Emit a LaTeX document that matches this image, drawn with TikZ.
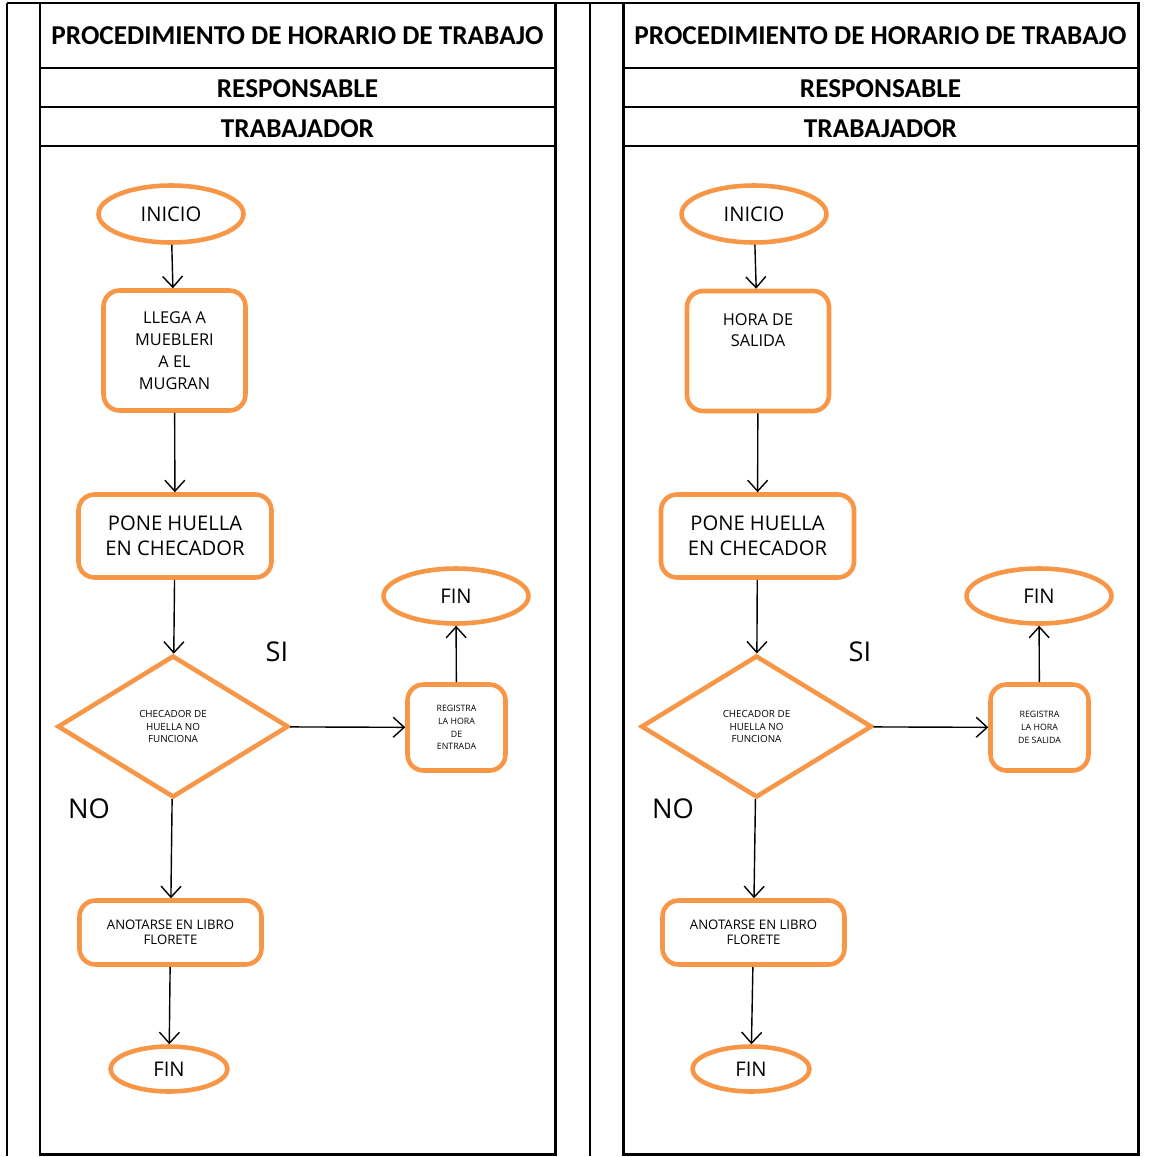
\documentclass[tikz,border=0pt]{standalone}
\usepackage{fontspec}
\setmainfont{Open Sans}
\newfontfamily\headfont{Carlito}
\definecolor{FlowOrange}{RGB}{247,150,70}
\usetikzlibrary{
    shapes.geometric,
    arrows.meta,
    positioning,
}

\begin{document}
\begin{tikzpicture}[
    x=0.02cm, y=-0.02cm,
    head/.style={font=\headfont\bfseries\fontsize{15.5}{17}\selectfont, inner sep=0pt},
    frame/.style={line width=1.7pt, black},
    rule/.style={line width=1.1pt, black},
    term/.style={ellipse, draw=FlowOrange, line width=2.6pt, inner sep=0pt, font=\fontsize{11.5}{13}\selectfont},
    proc/.style={rectangle, rounded corners=0.32cm, draw=FlowOrange, line width=2.6pt, inner sep=0pt, align=center},
    dec/.style={diamond, aspect=1.6, draw=FlowOrange, line width=2.6pt, inner sep=0pt, align=center, minimum width=4.62cm, minimum height=2.84cm, font=\fontsize{5.6}{7}\selectfont},
    arr/.style={-{Straight Barb[length=2.2mm,width=4mm]}, line width=0.8pt},
    ans/.style={font=\fontsize{15.5}{17}\selectfont, inner sep=0pt}
]
    \useasboundingbox (0,0) rectangle (1166,1156);

    % outer lines
    \draw[rule] (7,3) -- (7,1156);
    \draw[rule] (590,3) -- (590,1156);
    \draw[frame] (7,3) -- (1139,3);

    % two panels with the same header
    \foreach \ox in {0,583} {
        \draw[frame] (40+\ox,3) rectangle (555+\ox,1154);
        \draw[rule] (40+\ox,68) -- (555+\ox,68);
        \draw[rule] (40+\ox,107) -- (555+\ox,107);
        \draw[rule] (40+\ox,146) -- (555+\ox,146);
        \node[head] (tit\ox) at (297.5+\ox,36) {PROCEDIMIENTO DE HORARIO DE TRABAJO};
        \node[head] (res\ox) at (297.5+\ox,89) {RESPONSABLE};
        \node[head] (tra\ox) at (297.5+\ox,129) {TRABAJADOR};
    }

    % entrada
    \node[term, minimum width=2.9cm, minimum height=1.14cm] (ini1) at (171,214) {INICIO};
    \node[proc, minimum width=2.84cm, minimum height=2.4cm, font=\fontsize{9.3}{12.5}\selectfont] (llega) at (174.5,350.5) {LLEGA A\\MUEBLERI\\A EL\\MUGRAN};
    \node[proc, minimum width=3.86cm, minimum height=1.66cm, font=\fontsize{11.5}{14.5}\selectfont] (pone1) at (175,536) {PONE HUELLA\\EN CHECADOR};
    \node[dec] (dec1) at (173,726.5) {CHECADOR DE\\HUELLA NO\\FUNCIONA};
    \node[proc, minimum width=1.96cm, minimum height=1.72cm, font=\fontsize{5}{7.2}\selectfont] (reg1) at (456.5,727.5) {REGISTRA\\LA HORA\\DE\\ENTRADA};
    \node[term, minimum width=2.9cm, minimum height=1.1cm] (fin1a) at (456,596) {FIN};
    \node[proc, minimum width=3.64cm, minimum height=1.28cm, font=\fontsize{7.5}{8.5}\selectfont] (ano1) at (170.5,932.5) {ANOTARSE EN LIBRO\\FLORETE};
    \node[term, minimum width=2.34cm, minimum height=0.9cm] (fin1b) at (169,1069) {FIN};
    \node[ans] (si1) at (277,652) {SI};
    \node[ans] (no1) at (89,809) {NO};

    \draw[arr] (ini1) -- (llega);
    \draw[arr] (llega) -- (pone1);
    \draw[arr] (pone1) -- (dec1);
    \draw[arr] (dec1) -- (reg1);
    \draw[arr] (reg1) -- (fin1a);
    \draw[arr] (dec1) -- (ano1);
    \draw[arr] (ano1) -- (fin1b);

    % salida
    \node[term, minimum width=2.9cm, minimum height=1.14cm] (ini2) at (754,214) {INICIO};
    \node[proc, minimum width=2.84cm, minimum height=2.4cm, font=\fontsize{9.3}{12}\selectfont] (hora) at (758,351) {HORA DE\\SALIDA\\~\\~};
    \node[proc, minimum width=3.86cm, minimum height=1.66cm, font=\fontsize{11.5}{14.5}\selectfont] (pone2) at (757.5,536) {PONE HUELLA\\EN CHECADOR};
    \node[dec] (dec2) at (756.5,726.5) {CHECADOR DE\\HUELLA NO\\FUNCIONA};
    \node[proc, minimum width=1.96cm, minimum height=1.72cm, font=\fontsize{5}{7.2}\selectfont] (reg2) at (1039.5,727.5) {REGISTRA\\LA HORA\\DE SALIDA};
    \node[term, minimum width=2.9cm, minimum height=1.1cm] (fin2a) at (1039,596) {FIN};
    \node[proc, minimum width=3.64cm, minimum height=1.28cm, font=\fontsize{7.5}{8.5}\selectfont] (ano2) at (753.5,932.5) {ANOTARSE EN LIBRO\\FLORETE};
    \node[term, minimum width=2.34cm, minimum height=0.9cm] (fin2b) at (751,1069) {FIN};
    \node[ans] (si2) at (860,652) {SI};
    \node[ans] (no2) at (673,809) {NO};

    \draw[arr] (ini2) -- (hora);
    \draw[arr] (hora) -- (pone2);
    \draw[arr] (pone2) -- (dec2);
    \draw[arr] (dec2) -- (reg2);
    \draw[arr] (reg2) -- (fin2a);
    \draw[arr] (dec2) -- (ano2);
    \draw[arr] (ano2) -- (fin2b);
\end{tikzpicture}
\end{document}
